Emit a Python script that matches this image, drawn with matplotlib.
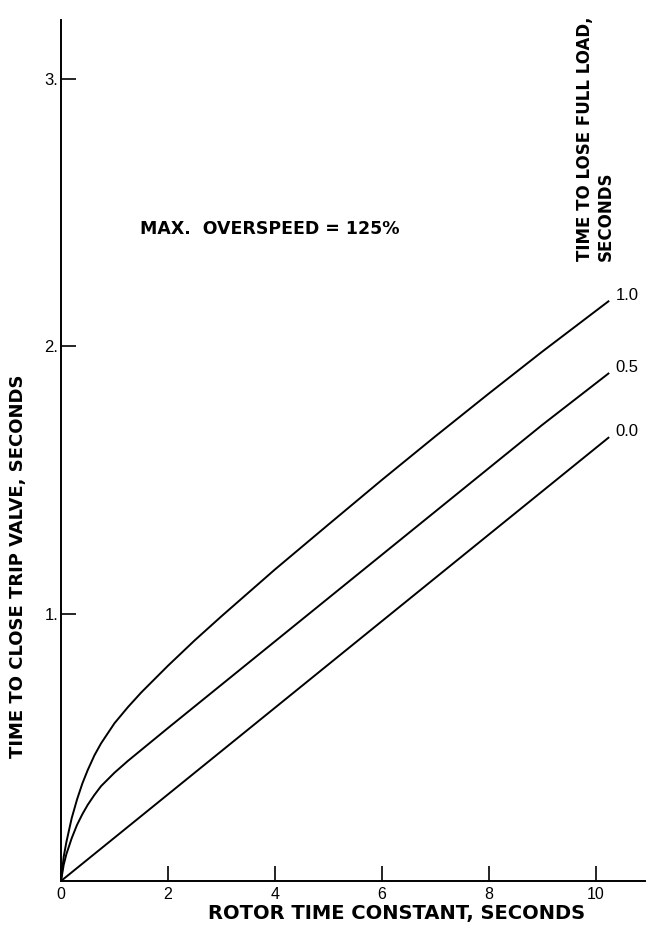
import matplotlib
matplotlib.use("Agg")
import matplotlib.pyplot as plt

# Rotor time constant (s) and trip-valve closing time (s) per curve
rotor_tc = [0, 0.05, 0.1, 0.2, 0.3, 0.4, 0.5, 0.625, 0.75, 1.0, 1.25, 1.5,
            2.0, 2.5, 3.0, 4.0, 5.0, 6.0, 7.0, 8.0, 9.0, 10.25]
close_load_1_0 = [0, 0.09, 0.145, 0.235, 0.305, 0.365, 0.415, 0.47, 0.515,
                  0.59, 0.65, 0.705, 0.805, 0.90, 0.99, 1.165, 1.333, 1.50,
                  1.663, 1.823, 1.98, 2.17]
close_load_0_5 = [0, 0.06, 0.10, 0.16, 0.21, 0.25, 0.285, 0.322, 0.355,
                  0.405, 0.449, 0.49, 0.572, 0.653, 0.734, 0.896, 1.058, 1.22,
                  1.382, 1.544, 1.706, 1.90]
rotor_tc_line = [0, 10.25]
close_load_0_0 = [0, 1.66]

curve_labels = ["1.0", "0.5", "0.0"]
x_ticks = [0, 2, 4, 6, 8, 10]
x_tick_labels = ["0", "2", "4", "6", "8", "10"]
y_ticks = [1, 2, 3]
y_tick_labels = ["1.", "2.", "3."]

W, H = 647, 933
fig = plt.figure(figsize=(W / 100, H / 100), dpi=100)
left_px, bottom_px, right_px, top_px = 61, 881, 645, 20
ax = fig.add_axes([left_px / W, (H - bottom_px) / H,
                   (right_px - left_px) / W, (bottom_px - top_px) / H])

ax.set_xlim(0, 10.92)
ax.set_ylim(0, 3.22)

lw = 1.4
series = [(rotor_tc, close_load_1_0), (rotor_tc, close_load_0_5),
          (rotor_tc_line, close_load_0_0)]
for (xs, ys), lab in zip(series, curve_labels):
    ax.plot(xs, ys, color="black", lw=lw, solid_capstyle="butt",
            solid_joinstyle="round")
    ax.text(xs[-1] + 0.12, ys[-1] + 0.02, lab, fontsize=12,
            family="Liberation Sans", ha="left", va="center")

for side in ("top", "right"):
    ax.spines[side].set_visible(False)
for side in ("left", "bottom"):
    ax.spines[side].set_linewidth(1.4)

ax.set_xticks(x_ticks)
ax.set_xticklabels(x_tick_labels, family="Liberation Sans", fontsize=11.5)
ax.set_yticks(y_ticks)
ax.set_yticklabels(y_tick_labels, family="Liberation Sans", fontsize=12)
ax.tick_params(axis="both", direction="in", length=11, width=1.2, pad=4)
ax.tick_params(axis="y", pad=2)

bold = dict(family="DejaVu Sans", fontweight="bold")

ax.text(1.48, 2.42, "MAX.  OVERSPEED = 125%", ha="left", va="baseline",
        fontsize=12.5, **bold)

ax.text(10.0, 2.32, "TIME TO LOSE FULL LOAD,\nSECONDS", rotation=90,
        ha="center", va="bottom", multialignment="left", linespacing=1.2,
        fontsize=12, **bold)

fig.text(397 / W, 1 - 913 / H, "ROTOR TIME CONSTANT, SECONDS",
         ha="center", va="center", fontsize=14, **bold)
fig.text(18 / W, 1 - 566 / H, "TIME TO CLOSE TRIP VALVE, SECONDS",
         rotation=90, ha="center", va="center", fontsize=13, **bold)

fig.savefig("out.png", dpi=100, facecolor="white")
